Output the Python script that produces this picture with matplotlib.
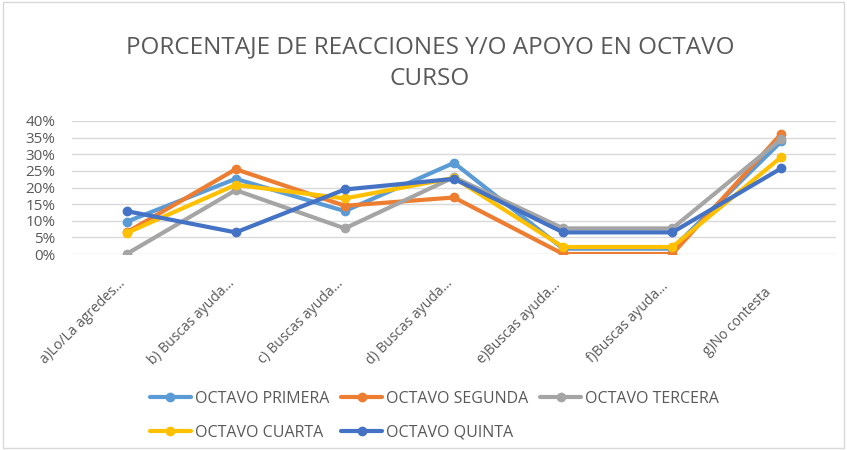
import numpy as np
import matplotlib.pyplot as plt
from matplotlib.patches import Rectangle
from matplotlib.transforms import ScaledTranslation

categories = ["a)Lo/La agredes...", "b) Buscas ayuda...", "c) Buscas ayuda...",
              "d) Buscas ayuda...", "e)Buscas ayuda...", "f)Buscas ayuda...",
              "g)No contesta"]

primera = [9.7, 22.6, 12.9, 27.4, 1.6, 1.6, 33.9]
segunda = [6.5, 25.5, 14.5, 17.0, 0.0, 0.0, 36.2]
tercera = [0.0, 19.2, 7.7, 23.1, 7.7, 7.7, 34.6]
cuarta = [6.3, 20.8, 16.7, 22.9, 2.1, 2.1, 29.2]
quinta = [12.9, 6.5, 19.4, 22.6, 6.5, 6.5, 25.8]

series = [
    ("OCTAVO PRIMERA", primera, "#5B9BD5"),
    ("OCTAVO SEGUNDA", segunda, "#ED7D31"),
    ("OCTAVO TERCERA", tercera, "#A5A5A5"),
    ("OCTAVO CUARTA", cuarta, "#FFC000"),
    ("OCTAVO QUINTA", quinta, "#4472C4"),
]

plt.rcParams['font.family'] = ['Open Sans', 'DejaVu Sans']
txt = '#595959'

fig = plt.figure(figsize=(8.47, 4.5), dpi=100)
ax = fig.add_axes([72 / 847, 1 - 254 / 450, (836 - 72) / 847, (254 - 121) / 450])

x = np.arange(len(categories))
lines = []
for name, vals, col in series:
    ln, = ax.plot(x, vals, color=col, linewidth=3, marker='o', markersize=6,
                  label=name, solid_capstyle='round')
    lines.append(ln)

ax.set_xlim(-0.5, len(categories) - 0.5)
ax.set_ylim(0, 40)
ax.set_yticks(np.arange(0, 41, 5))
ax.set_yticklabels([f"{v}%" for v in range(0, 41, 5)], fontsize=11, color=txt)
ax.set_xticks(x)
ax.set_xticklabels(categories, rotation=45, ha='center', va='center',
                   rotation_mode='anchor', fontsize=10, color=txt)
ax.tick_params(axis='both', length=0)
ax.tick_params(axis='x', pad=0)
ax.tick_params(axis='y', pad=12)
shift = ScaledTranslation(-0.44, -0.68, fig.dpi_scale_trans)
for lab in ax.get_xticklabels():
    lab.set_transform(lab.get_transform() + shift)
ax.grid(axis='y', color='#D9D9D9', linewidth=1)
ax.set_axisbelow(True)
for s in ax.spines.values():
    s.set_visible(False)

fig.text(430 / 847, 1 - 47 / 450, "PORCENTAJE DE REACCIONES Y/O APOYO EN OCTAVO",
         ha='center', va='center', fontsize=17.5, color=txt)
fig.text(430 / 847, 1 - 79 / 450, "CURSO", ha='center', va='center',
         fontsize=17.5, color=txt)

# row-wise legend order (matplotlib fills columns first)
order = [0, 3, 1, 4, 2]
leg = fig.legend([lines[i] for i in order], [series[i][0] for i in order],
                 loc='upper left', bbox_to_anchor=(150 / 847, 1 - 391 / 450),
                 ncol=3, frameon=False, fontsize=11.5, handlelength=2.56,
                 handletextpad=0.25, columnspacing=0.75, labelspacing=1.12,
                 borderaxespad=0, borderpad=0)
for t in leg.get_texts():
    t.set_color(txt)

fig.patches.append(Rectangle((0.004, 0.004), 0.992, 0.992, transform=fig.transFigure,
                             fill=False, edgecolor='#D9D9D9', linewidth=1))

fig.savefig("out.png", dpi=100)
